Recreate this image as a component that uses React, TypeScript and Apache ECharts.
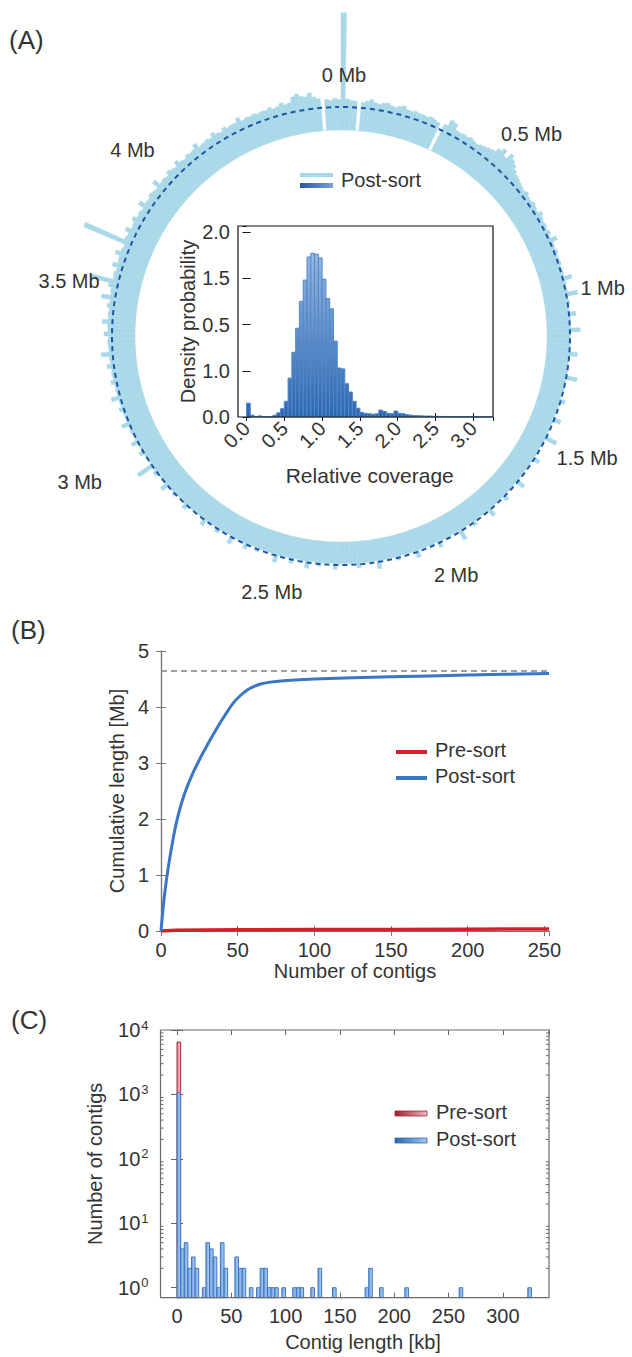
import React, { useEffect, useRef } from 'react';
import * as echarts from 'echarts';

const FONT = '"Liberation Sans", Arial, Helvetica, sans-serif';
const TXT = '#333333';

// ---------- Panel A : circular coverage ----------
const GENOME_MB = 4.64;
const MB_TICKS = [0, 0.5, 1, 1.5, 2, 2.5, 3, 3.5, 4];
const MEAN_COV = 1.0;
const COV_MAX = 5.2;
// relative coverage in 360 bins (1 degree each) clockwise from 0 Mb
const COVERAGE = [
  5.1, 1.35, 1.3, 1.28, 0, 1.25, 1.32, 1.4, 1.3, 1.26, 1.33, 1.38, 1.3, 1.27, 1.35, 1.42, 1.3, 1.28, 1.34, 1.3,
  1.32, 1.28, 1.35, 1.3, 1.25, 0, 1.3, 1.6, 1.55, 1.3, 1.28, 1.32, 1.3, 1.36, 1.3, 1.28, 1.33, 1.4, 1.45, 1.5,
  1.7, 1.85, 1.6, 1.9, 1.75, 1.65, 1.5, 1.4, 1.35, 1.3, 1.25, 1.2, 1.28, 1.2, 1.18, 1.25, 1.2, 1.15, 1.3, 1.2,
  1.15, 1.18, 1.12, 1.2, 1.1, 1.35, 1.12, 1.1, 1.15, 1.08, 1.1, 1.12, 1.05, 1.1, 1.08, 1.4, 1.1, 1.05, 1.08, 1.5,
  1.05, 1.1, 1.04, 1.02, 1.3, 1.05, 1.0, 1.03, 1.45, 1.02, 1.0, 1.05, 1.02, 1.0, 1.35, 1.02, 1.0, 0.98, 1.03, 1.0,
  1.47, 1.0, 0.98, 1.02, 1.0, 0.97, 1.2, 1.0, 0.98, 1.0, 0.96, 1.3, 0.98, 1.0, 0.97, 0.99, 1.5, 0.97, 0.98, 0.96,
  0.98, 0.97, 1.25, 0.96, 0.98, 0.97, 0.95, 1.0, 0.97, 1.35, 0.96, 0.95, 0.98, 0.96, 1.2, 0.95, 0.97, 0.96, 0.94, 1.3,
  0.95, 0.97, 0.94, 0.96, 1.15, 0.95, 0.94, 0.96, 1.4, 0.95, 0.93, 0.95, 0.96, 0.94, 1.2, 0.93, 0.95, 0.94, 0.96, 0.93,
  1.25, 0.94, 0.95, 0.93, 0.94, 1.1, 0.95, 0.93, 0.94, 0.96, 1.3, 0.93, 0.94, 0.95, 0.93, 1.15, 0.94, 0.95, 0.93, 0.94,
  0.95, 1.2, 0.93, 0.94, 0.95, 1.1, 0.94, 0.93, 1.25, 0.95, 0.94, 0.93, 1.15, 0.95, 0.94, 0.96, 1.3, 0.94, 0.95, 0.93,
  0.96, 1.1, 0.95, 0.94, 1.2, 0.96, 0.95, 0.97, 1.3, 0.95, 0.96, 0.98, 1.15, 0.96, 0.97, 0.95, 1.25, 0.97, 0.98, 0.96,
  1.0, 0.98, 1.2, 0.99, 1.0, 0.98, 1.1, 1.0, 1.02, 1.3, 1.0, 1.02, 1.01, 1.15, 1.03, 1.74, 1.02, 1.04, 1.03, 1.2,
  1.05, 1.04, 1.3, 1.06, 1.05, 1.1, 1.07, 1.35, 1.06, 1.08, 1.1, 1.2, 1.08, 1.1, 1.4, 1.1, 1.12, 1.1, 1.25, 1.12,
  1.15, 1.12, 1.3, 1.14, 1.16, 1.5, 1.15, 1.18, 1.2, 1.16, 1.35, 1.18, 1.2, 1.45, 1.2, 1.22, 1.18, 1.3, 1.2, 1.6,
  1.22, 1.25, 1.4, 2.25, 1.25, 1.3, 1.22, 1.45, 1.25, 1.28, 1.5, 1.3, 1.25, 3.2, 1.35, 1.3, 1.5, 1.28, 1.32, 1.45,
  1.3, 1.35, 1.28, 1.55, 1.32, 1.3, 1.4, 1.35, 1.3, 1.6, 1.33, 1.36, 1.3, 1.45, 1.38, 1.32, 1.5, 1.35, 1.3, 1.4,
  1.35, 1.38, 1.55, 1.32, 1.36, 1.4, 1.35, 1.5, 1.38, 1.33, 1.45, 1.36, 1.4, 1.38, 1.55, 1.35, 1.4, 1.38, 1.42, 1.36,
  1.4, 1.38, 1.45, 1.35, 1.4, 1.5, 1.38, 1.42, 1.65, 1.74, 1.6, 1.55, 1.7, 1.5, 1.4, 0, 1.35, 1.3, 1.38, 1.32,
];

// inset histogram (bin width 0.05 relative coverage)
const INSET_BIN = 0.05;
const INSET_DENSITY = [
  0.15, 0.02, 0.005, 0.012, 0.004, 0.003, 0.006, 0.02, 0.045, 0.09,
  0.17, 0.42, 0.7, 0.96, 1.25, 1.48, 1.73, 1.77, 1.76, 1.72,
  1.49, 1.28, 1.17, 0.82, 0.53, 0.52, 0.36, 0.27, 0.17, 0.095,
  0.05, 0.04, 0.035, 0.03, 0.035, 0.075, 0.06, 0.04, 0.035, 0.065,
  0.04, 0.035, 0.025, 0.02, 0.015, 0.015, 0.012, 0.01, 0.01, 0.008,
  0.008, 0.006, 0.006, 0.005, 0.005, 0.004, 0.004, 0.003, 0.003, 0.003,
  0.002, 0.002, 0.003, 0.002, 0.002,
];
const INSET_Y_TICK_LABELS = ['0.0', '1.0', '0.5', '1.5', '2.0'];

// ---------- Panel B : cumulative length ----------
const POST_CUM: [number, number][] = [
  [0, 0], [1, 0.3], [2, 0.58], [3, 0.8], [4, 1.0], [5, 1.18], [6, 1.35], [8, 1.66],
  [10, 1.93], [12, 2.15], [14, 2.34], [16, 2.5], [18, 2.64], [20, 2.77], [22, 2.89],
  [24, 3.0], [27, 3.16], [30, 3.31], [33, 3.46], [36, 3.6], [40, 3.78], [44, 3.95],
  [48, 4.1], [52, 4.21], [56, 4.3], [60, 4.36], [65, 4.41], [70, 4.44], [80, 4.47],
  [100, 4.5], [150, 4.54], [200, 4.57], [253, 4.6],
];
const PRE_CUM: [number, number][] = [
  [0, 0], [10, 0.015], [50, 0.022], [100, 0.026], [150, 0.029], [200, 0.032], [253, 0.035],
];

// ---------- Panel C : contig length histogram ----------
const BIN_KB = 3.33;
const PRE_COUNTS: [number, number][] = [[0, 6500]];
const POST_COUNTS: [number, number][] = [
  [0, 1060], [1, 4], [2, 5], [3, 2], [4, 3], [5, 2], [7, 1], [8, 5], [9, 4], [10, 3],
  [11, 1], [12, 5], [13, 2], [16, 3], [17, 2], [18, 2], [20, 1], [22, 1], [23, 2], [24, 2],
  [25, 1], [26, 1], [27, 1], [29, 1], [32, 1], [33, 1], [34, 1], [37, 1], [39, 2], [43, 1],
  [52, 1], [53, 2], [56, 1], [63, 1], [78, 1], [97, 1],
];
const MINOR_LOG_TICKS = [
  2, 3, 4, 5, 6, 7, 8, 9, 20, 30, 40, 50, 60, 70, 80, 90,
  200, 300, 400, 500, 600, 700, 800, 900, 2000, 3000, 4000, 5000, 6000, 7000, 8000, 9000,
];

// ---------- layout ----------
const CX = 341, CY = 336, R_IN = 206, PX_PER_COV = 23;
const BAND = '#a9d8e8';
// pixel nudges of the Mb labels away from their tick point on the mean circle
const MB_LABEL_NUDGE: [number, number][] = [
  [3, -32], [47, -24], [38, 1], [41, 20], [19, 31], [-14, 34], [-79, 7], [-43, -49], [-34, -38],
];

export default function App() {
  const ref = useRef<HTMLDivElement>(null);
  useEffect(() => {
    if (!ref.current) return;
    const chart = echarts.init(ref.current, undefined, { renderer: 'svg' });

    const insetGrad = new echarts.graphic.LinearGradient(0, 226, 0, 417, [
      { offset: 0, color: '#a9c6ea' },
      { offset: 1, color: '#2a66b0' },
    ], true);

    const tickStyle = (color: string, len: number) => ({ show: true, inside: true, length: len, lineStyle: { color, width: 1 } });

    const histItem = (fill: any, stroke: string) => (params: any, api: any) => {
      const c = api.value(2);
      const p0 = api.coord([api.value(0), c]);
      const p1 = api.coord([api.value(1), c]);
      const bottom = params.coordSys.y + params.coordSys.height;
      return {
        type: 'rect',
        shape: { x: p0[0], y: p0[1], width: p1[0] - p0[0], height: bottom - p0[1] },
        style: { fill, stroke, lineWidth: 1 },
      };
    };

    const option: any = {
      animation: false,
      textStyle: { fontFamily: FONT },
      polar: [
        { center: [CX, CY], radius: [R_IN, R_IN + COV_MAX * PX_PER_COV] },
        { center: [CX, CY], radius: R_IN + MEAN_COV * PX_PER_COV },
      ],
      angleAxis: [
        {
          polarIndex: 0, type: 'category', data: COVERAGE.map((_, i) => String(i)),
          startAngle: 90, clockwise: true,
          axisLine: { show: false }, axisTick: { show: false }, axisLabel: { show: false }, splitLine: { show: false },
        },
        {
          polarIndex: 1, type: 'value', min: 0, max: GENOME_MB,
          startAngle: 90, clockwise: true,
          axisLine: { show: false }, axisTick: { show: false }, splitLine: { show: false }, axisLabel: { show: false },
        },
      ],
      radiusAxis: [
        { polarIndex: 0, type: 'value', min: 0, max: COV_MAX, show: false },
        { polarIndex: 1, type: 'value', min: 0, max: 1, show: false },
      ],
      grid: [
        { left: 246.5, top: 226, width: 246.5, height: 191 },
        { left: 161, top: 651, width: 388, height: 280 },
        { left: 177, top: 1030, width: 372, height: 267.7 },
      ],
      xAxis: [
        {
          gridIndex: 0, type: 'value', min: 0, max: 3.26, interval: 0.5,
          axisLine: { show: false }, axisTick: tickStyle('#111', 4), splitLine: { show: false },
          axisLabel: { rotate: 45, margin: 8, fontSize: 20, color: TXT, showMaxLabel: false, formatter: (v: number) => v.toFixed(1) },
          name: 'Relative coverage', nameLocation: 'middle', nameGap: 48,
          nameTextStyle: { fontSize: 21, color: TXT },
        },
        {
          gridIndex: 0, type: 'value', position: 'top', min: 0, max: 3.26, interval: 0.5,
          axisLine: { show: false }, axisTick: tickStyle('#111', 4), axisLabel: { show: false }, splitLine: { show: false },
        },
        {
          gridIndex: 1, type: 'value', min: 0, max: 253, interval: 50,
          axisLine: { show: true, lineStyle: { color: '#777', width: 1.2 } }, axisTick: tickStyle('#777', 5),
          splitLine: { show: false },
          axisLabel: { margin: 9, fontSize: 20, color: TXT, showMaxLabel: false },
          name: 'Number of contigs', nameLocation: 'middle', nameGap: 28,
          nameTextStyle: { fontSize: 20, color: TXT },
        },
        {
          gridIndex: 1, type: 'value', position: 'top', min: 0, max: 253, interval: 50,
          axisLine: { show: true, lineStyle: { color: '#777', width: 1.2 } }, axisTick: tickStyle('#777', 5),
          axisLabel: { show: false }, splitLine: { show: false },
        },
        {
          gridIndex: 2, type: 'value', min: 0, max: 342.5, interval: 50,
          axisLine: { show: false }, axisTick: tickStyle('#666', 5), splitLine: { show: false },
          axisLabel: { margin: 8, fontSize: 20, color: TXT, showMaxLabel: false },
          name: 'Contig length [kb]', nameLocation: 'middle', nameGap: 34,
          nameTextStyle: { fontSize: 20, color: TXT },
        },
        {
          gridIndex: 2, type: 'value', position: 'top', min: 0, max: 342.5, interval: 50,
          axisLine: { show: false }, axisTick: tickStyle('#666', 5), axisLabel: { show: false }, splitLine: { show: false },
        },
      ],
      yAxis: [
        {
          gridIndex: 0, type: 'value', min: 0, max: 2.065, interval: 0.5, offset: 8.5,
          axisLine: { show: false }, axisTick: tickStyle('#111', 4), splitLine: { show: false },
          axisLabel: {
            margin: 8, fontSize: 20, color: TXT, showMaxLabel: false,
            formatter: (v: number) => INSET_Y_TICK_LABELS[Math.round(v * 2)] ?? '',
          },
          name: 'Density probability', nameLocation: 'middle', nameGap: 38,
          nameTextStyle: { fontSize: 20, color: TXT },
        },
        {
          gridIndex: 0, type: 'value', position: 'right', min: 0, max: 2.065, interval: 0.5,
          axisLine: { show: false }, axisTick: tickStyle('#111', 4), axisLabel: { show: false }, splitLine: { show: false },
        },
        {
          gridIndex: 1, type: 'value', min: 0, max: 5, interval: 1,
          axisLine: { show: true, lineStyle: { color: '#777', width: 1.2 } }, axisTick: tickStyle('#777', 5),
          splitLine: { show: false },
          axisLabel: { margin: 12, fontSize: 20, color: TXT },
          name: 'Cumulative length [Mb]', nameLocation: 'middle', nameGap: 34,
          nameTextStyle: { fontSize: 20, color: TXT },
        },
        {
          gridIndex: 1, type: 'value', position: 'right', min: 0, max: 5, interval: 1,
          axisLine: { show: true, lineStyle: { color: '#777', width: 1.2 } }, axisTick: tickStyle('#777', 5),
          axisLabel: { show: false }, splitLine: { show: false },
        },
        {
          gridIndex: 2, type: 'log', logBase: 10, min: 0.7, max: 10000, offset: 16.5,
          axisLine: { show: false }, axisTick: tickStyle('#666', 6), splitLine: { show: false },
          axisLabel: {
            margin: 12, fontSize: 20, color: TXT, showMinLabel: false,
            formatter: (v: number) => {
              const e = Math.round(Math.log10(v));
              if (Math.abs(Math.pow(10, e) - v) > 1e-6 * v) return '';
              return `{b|10}{s|${e}}`;
            },
            rich: {
              b: { fontSize: 20, color: TXT, fontFamily: FONT },
              s: { fontSize: 13, color: TXT, fontFamily: FONT, verticalAlign: 'top', padding: [0, 0, 10, 1] },
            },
          },
          name: 'Number of contigs', nameLocation: 'middle', nameGap: 56,
          nameTextStyle: { fontSize: 20, color: TXT },
        },
        {
          gridIndex: 2, type: 'log', logBase: 10, min: 0.7, max: 10000, position: 'right',
          axisLine: { show: false }, axisTick: tickStyle('#666', 6), axisLabel: { show: false }, splitLine: { show: false },
        },
      ],
      series: [
        {
          type: 'bar', coordinateSystem: 'polar', polarIndex: 0, data: COVERAGE,
          barCategoryGap: '0%', silent: true,
          itemStyle: { color: BAND, borderColor: BAND, borderWidth: 0.4 },
        },
        {
          type: 'line', coordinateSystem: 'polar', polarIndex: 0,
          data: COVERAGE.map(() => MEAN_COV), symbol: 'none', silent: true,
          lineStyle: { color: '#1c54a6', width: 2, type: [5, 4] },
        },
        {
          type: 'scatter', coordinateSystem: 'polar', polarIndex: 1, symbolSize: 0, silent: true,
          itemStyle: { color: 'rgba(0,0,0,0)', opacity: 0 },
          data: MB_TICKS.map((t, i) => ({
            value: [MEAN_COV, t],
            label: { offset: MB_LABEL_NUDGE[i] },
          })),
          label: {
            show: true, position: 'inside', fontSize: 20, color: TXT, fontFamily: FONT,
            textBorderWidth: 0, textBorderColor: 'transparent', opacity: 1,
            formatter: (p: any) => `${p.value[1]} Mb`,
          },
        },
        {
          type: 'custom', xAxisIndex: 0, yAxisIndex: 0, silent: true,
          data: INSET_DENSITY.map((d, i) => [i * INSET_BIN, (i + 1) * INSET_BIN, d]),
          renderItem: histItem(insetGrad, '#5287c8'),
        },
        {
          type: 'line', xAxisIndex: 2, yAxisIndex: 2, data: PRE_CUM, symbol: 'none',
          lineStyle: { color: '#d81e28', width: 3.5 },
        },
        {
          type: 'line', xAxisIndex: 2, yAxisIndex: 2, data: POST_CUM, symbol: 'none',
          smooth: 0.25,
          lineStyle: { color: '#3b76c4', width: 3 },
          markLine: {
            silent: true, symbol: 'none', label: { show: false },
            lineStyle: { color: '#808080', width: 1.5, type: [6, 4] },
            data: [{ yAxis: GENOME_MB }],
          },
        },
        {
          type: 'custom', xAxisIndex: 4, yAxisIndex: 4, silent: true,
          data: PRE_COUNTS.map(([b, c]) => [b * BIN_KB, (b + 1) * BIN_KB, c]),
          renderItem: histItem(new echarts.graphic.LinearGradient(0, 0, 1, 0, [
            { offset: 0, color: '#e07a8e' }, { offset: 1, color: '#f8c8d4' }]), '#b02a40'),
        },
        {
          type: 'custom', xAxisIndex: 4, yAxisIndex: 4, silent: true,
          data: POST_COUNTS.map(([b, c]) => [b * BIN_KB, (b + 1) * BIN_KB, c]),
          renderItem: histItem(new echarts.graphic.LinearGradient(0, 0, 1, 0, [
            { offset: 0, color: '#6a9ddc' }, { offset: 1, color: '#b9d3f2' }]), '#3a77c4'),
        },
        {
          type: 'custom', xAxisIndex: 4, yAxisIndex: 4, silent: true,
          data: MINOR_LOG_TICKS.map((v) => [v]),
          renderItem: (params: any, api: any) => {
            const y = api.coord([0, api.value(0)])[1];
            const left = 160.5;
            const right = params.coordSys.x + params.coordSys.width;
            return {
              type: 'group',
              children: [
                { type: 'line', shape: { x1: left, y1: y, x2: left + 3, y2: y }, style: { stroke: '#666', lineWidth: 1 } },
                { type: 'line', shape: { x1: right - 3, y1: y, x2: right, y2: y }, style: { stroke: '#666', lineWidth: 1 } },
              ],
            };
          },
        },
      ],
      graphic: [
        { type: 'text', left: 9, top: 27, style: { text: '(A)', fontSize: 26, fill: TXT, fontFamily: FONT } },
        { type: 'text', left: 11, top: 617, style: { text: '(B)', fontSize: 26, fill: TXT, fontFamily: FONT } },
        { type: 'text', left: 11, top: 1007, style: { text: '(C)', fontSize: 26, fill: TXT, fontFamily: FONT } },
        // inset box
        { type: 'rect', shape: { x: 238, y: 226, width: 255, height: 191 }, style: { fill: 'none', stroke: '#111', lineWidth: 1.2 }, z: 10 },
        // panel C box
        { type: 'rect', shape: { x: 160.5, y: 1030, width: 388.5, height: 267.7 }, style: { fill: 'none', stroke: '#6a6a6a', lineWidth: 1.2 }, z: 10 },
        // legend A
        { type: 'rect', shape: { x: 300, y: 173, width: 33, height: 4 }, style: { fill: BAND } },
        {
          type: 'rect', shape: { x: 300, y: 183, width: 33, height: 5 },
          style: { fill: new echarts.graphic.LinearGradient(0, 0, 1, 0, [{ offset: 0, color: '#1f5aa8' }, { offset: 1, color: '#7aa3d8' }]) },
        },
        { type: 'text', left: 341, top: 170, style: { text: 'Post-sort', fontSize: 20, fill: TXT, fontFamily: FONT } },
        // legend B
        { type: 'line', shape: { x1: 396, y1: 752, x2: 427, y2: 752 }, style: { stroke: '#d81e28', lineWidth: 4 } },
        { type: 'line', shape: { x1: 396, y1: 778, x2: 427, y2: 778 }, style: { stroke: '#3b76c4', lineWidth: 4 } },
        { type: 'text', left: 435, top: 740, style: { text: 'Pre-sort', fontSize: 20, fill: TXT, fontFamily: FONT } },
        { type: 'text', left: 435, top: 766, style: { text: 'Post-sort', fontSize: 20, fill: TXT, fontFamily: FONT } },
        // legend C
        {
          type: 'rect', shape: { x: 395, y: 1111, width: 32, height: 5 },
          style: { stroke: '#a02538', lineWidth: 0.8, fill: new echarts.graphic.LinearGradient(0, 0, 1, 0, [{ offset: 0, color: '#a01c2c' }, { offset: 1, color: '#f0b8c4' }]) },
        },
        {
          type: 'rect', shape: { x: 395, y: 1138, width: 32, height: 5 },
          style: { stroke: '#2f6bb8', lineWidth: 0.8, fill: new echarts.graphic.LinearGradient(0, 0, 1, 0, [{ offset: 0, color: '#2a64b0' }, { offset: 1, color: '#a8c8ee' }]) },
        },
        { type: 'text', left: 436, top: 1102, style: { text: 'Pre-sort', fontSize: 20, fill: TXT, fontFamily: FONT } },
        { type: 'text', left: 436, top: 1129, style: { text: 'Post-sort', fontSize: 20, fill: TXT, fontFamily: FONT } },
      ],
    };

    chart.setOption(option);
    return () => chart.dispose();
  }, []);

  return (
    <div
      ref={ref}
      style={{ position: 'fixed', left: 0, top: 0, width: 632, height: 1357, background: '#ffffff' }}
    />
  );
}
